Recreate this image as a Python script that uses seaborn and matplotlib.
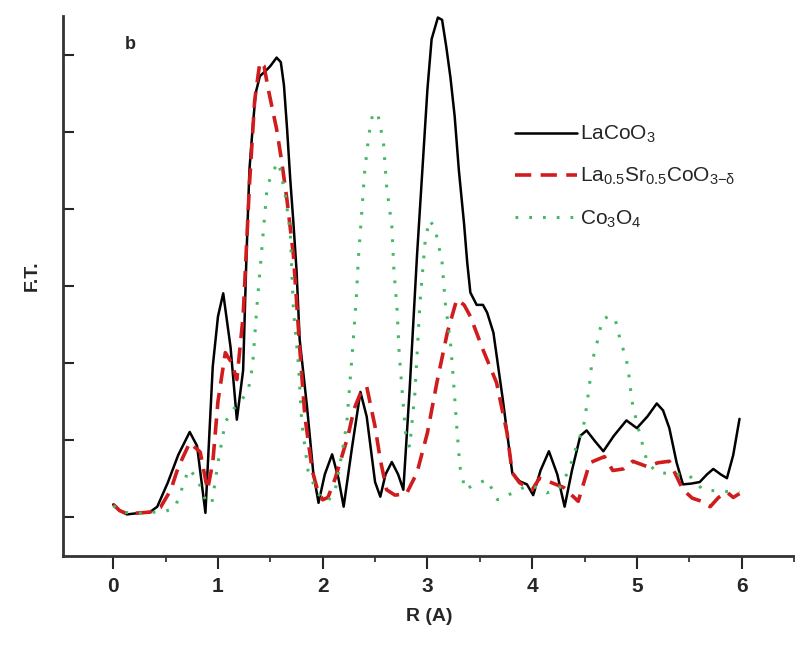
import numpy as np
import pandas as pd
import matplotlib
matplotlib.use("Agg")
import matplotlib.pyplot as plt
from matplotlib.ticker import MultipleLocator
import seaborn as sns

#%% data (R in Angstrom, F.T. in arbitrary units)
r_la = [0.0, 0.06, 0.13, 0.26, 0.35, 0.42, 0.52, 0.62, 0.73, 0.80, 0.88, 0.95, 1.0, 1.05,
        1.12, 1.18, 1.24, 1.27, 1.30, 1.33, 1.36, 1.40, 1.45, 1.50, 1.56, 1.60, 1.63, 1.66,
        1.69, 1.72, 1.75, 1.78, 1.85, 1.91, 1.96, 2.02, 2.09, 2.15, 2.20, 2.28, 2.36, 2.42,
        2.50, 2.55, 2.60, 2.66, 2.72, 2.77, 2.83, 2.90, 2.96, 3.00, 3.04, 3.10, 3.14, 3.18,
        3.22, 3.26, 3.30, 3.35, 3.38, 3.41, 3.47, 3.53, 3.57, 3.63, 3.72, 3.81, 3.88, 3.95,
        4.01, 4.08, 4.16, 4.24, 4.31, 4.38, 4.46, 4.52, 4.60, 4.68, 4.78, 4.90, 5.00, 5.10,
        5.19, 5.25, 5.31, 5.38, 5.44, 5.52, 5.60, 5.67, 5.73, 5.80, 5.86, 5.92, 5.98]
ft_la = [0.16, 0.08, 0.03, 0.05, 0.06, 0.13, 0.44, 0.80, 1.10, 0.92, 0.05, 1.95, 2.60, 2.90,
         2.20, 1.26, 1.90, 3.30, 4.50, 5.03, 5.50, 5.72, 5.78, 5.85, 5.96, 5.90, 5.60, 5.03,
         4.38, 3.82, 3.20, 2.30, 1.43, 0.57, 0.18, 0.55, 0.81, 0.50, 0.13, 0.90, 1.62, 1.30,
         0.45, 0.26, 0.55, 0.71, 0.55, 0.35, 1.65, 3.38, 4.68, 5.55, 6.20, 6.48, 6.45, 6.10,
         5.70, 5.20, 4.50, 3.80, 3.30, 2.91, 2.75, 2.75, 2.65, 2.39, 1.52, 0.57, 0.46, 0.42,
         0.28, 0.60, 0.85, 0.55, 0.13, 0.60, 1.05, 1.12, 0.98, 0.85, 1.05, 1.25, 1.15, 1.30,
         1.47, 1.38, 1.15, 0.70, 0.42, 0.43, 0.45, 0.55, 0.62, 0.55, 0.50, 0.80, 1.27]

r_lsc = [0.0, 0.06, 0.13, 0.26, 0.35, 0.45, 0.55, 0.62, 0.73, 0.83, 0.90, 0.95, 1.0, 1.07,
         1.13, 1.18, 1.24, 1.30, 1.35, 1.40, 1.44, 1.48, 1.56, 1.61, 1.66, 1.72, 1.78, 1.83,
         1.90, 1.95, 2.00, 2.05, 2.12, 2.24, 2.30, 2.36, 2.42, 2.50, 2.55, 2.61, 2.69, 2.80,
         2.90, 3.00, 3.09, 3.19, 3.28, 3.35, 3.41, 3.53, 3.66, 3.76, 3.81, 3.88, 4.00, 4.07,
         4.17, 4.30, 4.44, 4.55, 4.69, 4.77, 4.87, 4.96, 5.10, 5.20, 5.31, 5.44, 5.53, 5.62,
         5.70, 5.78, 5.86, 5.92, 5.98]
ft_lsc = [0.16, 0.08, 0.04, 0.05, 0.06, 0.12, 0.35, 0.64, 0.96, 0.84, 0.35, 0.70, 1.50, 2.13,
          2.00, 1.78, 2.60, 4.30, 5.40, 5.90, 5.85, 5.55, 5.03, 4.60, 4.10, 3.40, 2.20, 1.30,
          0.60, 0.35, 0.22, 0.25, 0.50, 1.04, 1.40, 1.60, 1.69, 1.17, 0.74, 0.35, 0.28, 0.30,
          0.57, 1.09, 1.74, 2.39, 2.82, 2.75, 2.60, 2.17, 1.74, 1.09, 0.57, 0.44, 0.35, 0.50,
          0.45, 0.38, 0.20, 0.70, 0.78, 0.60, 0.62, 0.72, 0.65, 0.70, 0.72, 0.35, 0.24, 0.20,
          0.13, 0.25, 0.32, 0.25, 0.30]

r_co = [0.0, 0.10, 0.20, 0.30, 0.40, 0.50, 0.59, 0.66, 0.72, 0.80, 0.88, 0.94, 1.0, 1.07,
        1.15, 1.22, 1.29, 1.33, 1.37, 1.42, 1.47, 1.53, 1.58, 1.64, 1.69, 1.72, 1.77, 1.80,
        1.86, 1.95, 2.05, 2.12, 2.19, 2.23, 2.26, 2.29, 2.32, 2.34, 2.37, 2.40, 2.44, 2.48,
        2.53, 2.58, 2.61, 2.66, 2.68, 2.71, 2.73, 2.76, 2.79, 2.83, 2.88, 2.93, 2.98, 3.02,
        3.07, 3.10, 3.14, 3.17, 3.22, 3.25, 3.28, 3.31, 3.36, 3.45, 3.57, 3.67, 3.80, 3.95,
        4.05, 4.14, 4.25, 4.35, 4.42, 4.49, 4.52, 4.55, 4.57, 4.62, 4.67, 4.73, 4.79, 4.84,
        4.90, 4.93, 4.95, 5.00, 5.10, 5.19, 5.35, 5.49, 5.63, 5.80, 5.98]
ft_co = [0.14, 0.06, 0.04, 0.05, 0.06, 0.07, 0.12, 0.38, 0.62, 0.50, 0.22, 0.16, 0.70, 1.23,
         1.40, 1.50, 1.65, 1.95, 2.70, 3.50, 4.29, 4.50, 4.60, 4.20, 3.69, 2.70, 1.95, 1.22,
         0.60, 0.30, 0.20, 0.35, 0.87, 1.22, 1.74, 2.26, 2.82, 3.34, 3.90, 4.47, 4.95, 5.25,
         5.20, 4.86, 4.29, 3.77, 3.20, 2.69, 2.13, 1.61, 1.10, 0.90, 1.60, 2.80, 3.60, 3.85,
         3.75, 3.57, 3.30, 2.78, 2.26, 1.74, 1.17, 0.65, 0.35, 0.42, 0.48, 0.22, 0.30, 0.40,
         0.38, 0.31, 0.35, 0.60, 0.90, 1.17, 1.43, 1.74, 2.00, 2.26, 2.56, 2.60, 2.58, 2.30,
         2.04, 1.78, 1.52, 1.22, 0.70, 0.58, 0.55, 0.55, 0.35, 0.33, 0.32]

labels = [r"LaCoO$_3$", r"La$_{0.5}$Sr$_{0.5}$CoO$_{3\mathrm{-}\delta}$", r"Co$_3$O$_4$"]

#%% plot
sns.set_style("ticks")
plt.rcParams["font.family"] = ["Liberation Sans", "DejaVu Sans"]
plt.rcParams["mathtext.fontset"] = "custom"
plt.rcParams["mathtext.rm"] = "Liberation Sans"
plt.rcParams["mathtext.it"] = "Liberation Sans:italic"
plt.rcParams["mathtext.default"] = "regular"

fig = plt.figure(figsize=(7.95, 6.5), dpi=100)
ax = fig.add_axes([63/795, 1-556/650, (795-63)/795, (556-16)/650])

sns.lineplot(x=r_la, y=ft_la, ax=ax, sort=False, color="black", lw=1.8, label=labels[0])
sns.lineplot(x=r_lsc, y=ft_lsc, ax=ax, sort=False, color="#d01c1c", lw=2.6,
             linestyle=(0, (4.5, 2.6)), label=labels[1])
sns.lineplot(x=r_co, y=ft_co, ax=ax, sort=False, color="#45b866", lw=2.2,
             linestyle=(0, (0.9, 3.6)), label=labels[2])

ax.set_xlim(-0.48, 6.51)
ax.set_ylim(-0.51, 6.5)
ax.xaxis.set_major_locator(MultipleLocator(1))
ax.xaxis.set_minor_locator(MultipleLocator(0.5))
ax.yaxis.set_major_locator(MultipleLocator(1))
ax.tick_params(axis="x", which="major", direction="out", length=9, width=1.5,
               labelsize=15, pad=6)
ax.tick_params(axis="x", which="minor", direction="out", length=4, width=1.2)
ax.tick_params(axis="y", which="major", direction="in", length=8, width=1.5,
               labelleft=False)
for lab in ax.get_xticklabels():
    lab.set_fontweight("bold")

sns.despine(ax=ax)
for s in ["left", "bottom"]:
    ax.spines[s].set_linewidth(2)
    ax.spines[s].set_color("#333333")

ax.set_xlabel("R (A)", fontsize=14, fontweight="bold", labelpad=9)
ax.set_ylabel("F.T.", fontsize=14, fontweight="bold")
ax.yaxis.set_label_coords(-0.031, 0.52)
ax.text(0.16, 6.13, "b", fontsize=13, fontweight="bold", ha="center", va="center")

ax.legend(loc="upper left", bbox_to_anchor=(0.617, 0.80), frameon=False,
          fontsize=15, handlelength=3.0, handletextpad=0.15, labelspacing=1.0,
          borderpad=0, borderaxespad=0)

fig.savefig("out.png", dpi=100)
